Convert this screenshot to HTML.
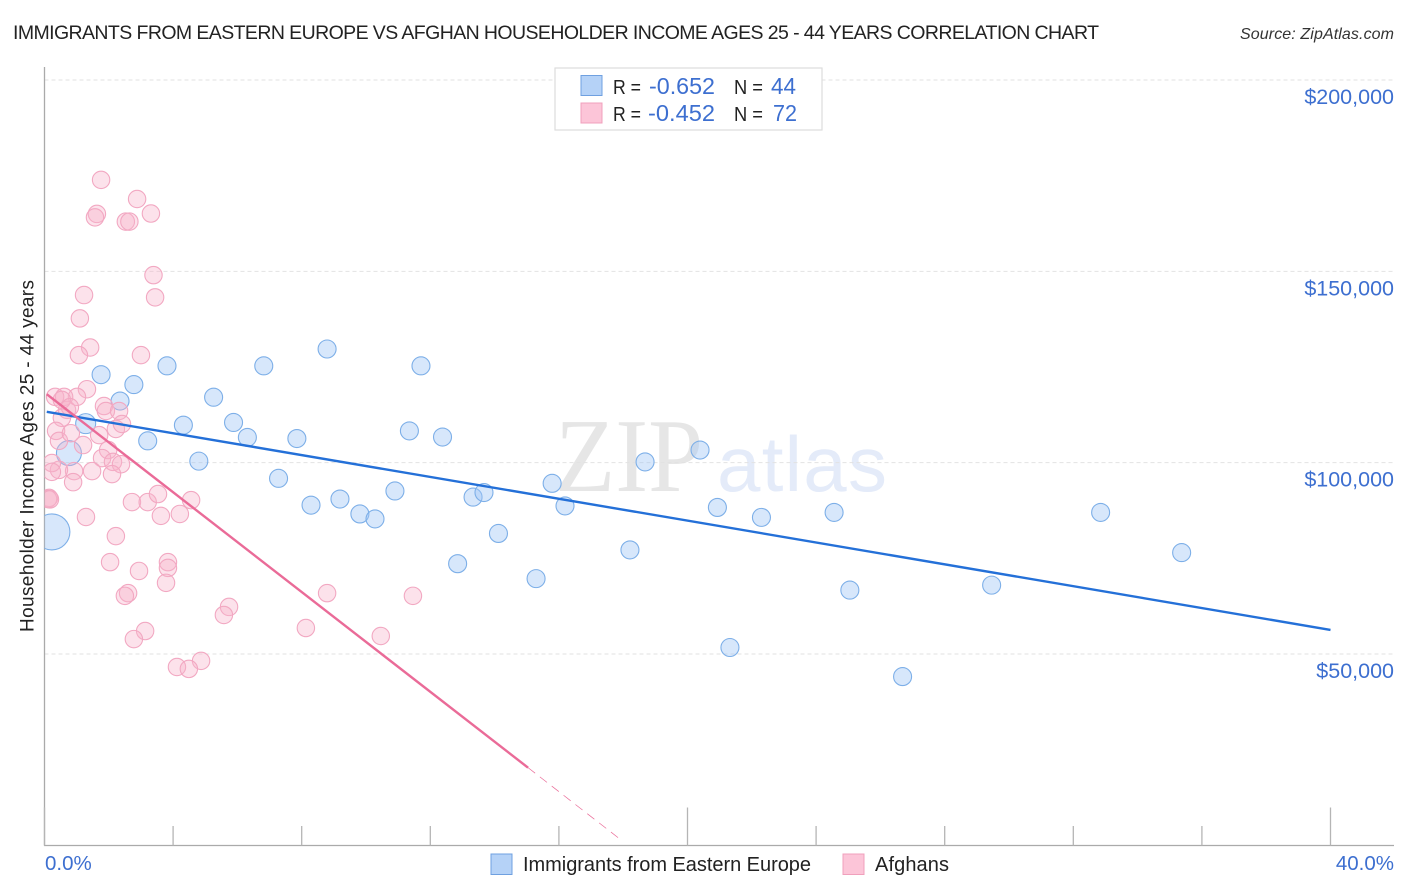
<!DOCTYPE html>
<html>
<head>
<meta charset="utf-8">
<title>Immigrants from Eastern Europe vs Afghan Householder Income Correlation Chart</title>
<style>
html,body{margin:0;padding:0;background:#fff;}
svg{display:block;font-family:"Liberation Sans",sans-serif;}
</style>
</head>
<body>
<svg id="chart" width="1406" height="892" viewBox="0 0 1406 892" xmlns="http://www.w3.org/2000/svg">
  <text x="13" y="39" font-size="19.500" fill="#222" textLength="1086" lengthAdjust="spacing">IMMIGRANTS FROM EASTERN EUROPE VS AFGHAN HOUSEHOLDER INCOME AGES 25 - 44 YEARS CORRELATION CHART</text>
  <text x="1394" y="39" font-size="16" font-style="italic" fill="#333" text-anchor="end" textLength="154" lengthAdjust="spacing">Source: ZipAtlas.com</text>

  <g id="watermark">
    <text x="555" y="491" font-family="'Liberation Serif',serif" font-size="105" fill="#e6e6e6" textLength="148" lengthAdjust="spacingAndGlyphs">ZIP</text>
    <text x="717" y="491" font-size="78" fill="#e4ebf9" textLength="170" lengthAdjust="spacing">atlas</text>
  </g>

  <g id="grid"></g>
  <g id="axes"></g>
  <g id="blue-points"></g>
  <g id="pink-points"></g>
  <g id="trends"></g>

  <text transform="translate(33.500,456) rotate(-90)" font-size="19" fill="#222" text-anchor="middle" textLength="352" lengthAdjust="spacing">Householder Income Ages 25 - 44 years</text>

  <g>
    <rect x="555" y="68" width="267" height="62" fill="#fff" stroke="#ddd" stroke-width="1.200"/>
    <rect x="581" y="75.500" width="21" height="20" fill="#b5d2f7" stroke="#6fa0e0" stroke-width="1"/>
    <rect x="581" y="103" width="21" height="20" fill="#fcc5d8" stroke="#f0a0bc" stroke-width="1"/>
    <text x="613" y="94" font-size="20" fill="#222" textLength="28" lengthAdjust="spacingAndGlyphs">R =</text>
    <text x="649" y="94" font-size="23" fill="#3d6fd0" textLength="66" lengthAdjust="spacingAndGlyphs">-0.652</text>
    <text x="734" y="94" font-size="20" fill="#222" textLength="29" lengthAdjust="spacingAndGlyphs">N =</text>
    <text x="771" y="94" font-size="23" fill="#3d6fd0" textLength="25" lengthAdjust="spacingAndGlyphs">44</text>
    <text x="613" y="121" font-size="20" fill="#222" textLength="28" lengthAdjust="spacingAndGlyphs">R =</text>
    <text x="648" y="121" font-size="23" fill="#3d6fd0" textLength="67" lengthAdjust="spacingAndGlyphs">-0.452</text>
    <text x="734" y="121" font-size="20" fill="#222" textLength="29" lengthAdjust="spacingAndGlyphs">N =</text>
    <text x="773" y="121" font-size="23" fill="#3d6fd0" textLength="24" lengthAdjust="spacingAndGlyphs">72</text>
  </g>

  <g>
    <rect x="491" y="854" width="21" height="20.500" fill="#b5d2f7" stroke="#6fa0e0" stroke-width="1"/>
    <text x="523" y="871" font-size="20" fill="#222" textLength="288" lengthAdjust="spacing">Immigrants from Eastern Europe</text>
    <rect x="843" y="854" width="21" height="20.500" fill="#fcc5d8" stroke="#f0a0bc" stroke-width="1"/>
    <text x="875" y="871" font-size="20" fill="#222" textLength="74" lengthAdjust="spacing">Afghans</text>
  </g>
</svg>

<script>
// Chart data: x in percent, y in thousands of dollars
const yTicks = [200, 150, 100, 50];
const yTickLabels = ["$200,000", "$150,000", "$100,000", "$50,000"];
const xTicks = [0, 4, 8, 12, 16, 20, 24, 28, 32, 36, 40];
const xTickLabels = ["0.0%", "40.0%"];

const blueX = [0.23,0.76,1.28,1.76,2.35,2.78,3.21,3.81,4.32,4.80,5.26,5.88,6.31,6.82,7.28,7.85,8.29,8.79,9.19,9.81,10.28,10.90,11.35,11.71,12.38,12.85,13.33,13.67,14.12,15.29,15.79,16.19,18.21,18.68,20.39,20.93,21.32,22.30,24.56,25.05,26.69,29.46,32.85,35.37];
const blueY = [81.9,102.5,110.2,123.0,116.1,120.4,105.7,125.3,109.8,100.4,117.1,110.5,106.6,125.3,95.9,106.3,88.9,129.7,90.5,86.6,85.3,92.6,108.3,125.3,106.7,73.6,91.0,92.2,81.5,69.7,94.6,88.7,77.2,100.2,103.3,88.3,51.7,85.7,87.0,66.7,44.1,68.0,87.0,76.5];
const blueWeight = [18,12.5,10,9,9,9,9,9,9,9,9,9,9,9,9,9,9,9,9,9,9,9,9,9,9,9,9,9,9,9,9,9,9,9,9,9,9,9,9,9,9,9,9,9];

const pinkX = [1.76,2.88,1.63,1.57,2.53,2.64,3.31,3.39,3.44,1.23,1.10,1.42,1.07,3.00,1.32,1.01,0.33,0.61,0.70,0.54,1.85,1.91,2.32,2.22,2.41,0.36,0.45,0.82,1.20,1.70,1.98,1.79,2.13,2.38,2.10,1.48,0.92,0.45,0.23,0.23,0.89,0.14,0.11,1.29,2.22,2.04,2.72,3.21,3.53,3.62,4.21,4.56,2.94,3.84,3.84,3.78,2.60,2.50,3.13,2.78,4.87,4.12,4.49,5.74,5.58,8.13,8.79,11.46,10.46,0.54,0.79,0.17];
const pinkY = [173.9,168.9,165.0,164.1,163.0,163.0,165.1,149.0,143.2,143.8,137.7,130.1,128.1,128.1,119.2,117.2,117.2,117.2,113.8,111.7,114.8,113.5,113.5,108.8,110.1,108.3,105.7,107.7,104.6,107.2,103.3,101.2,100.2,99.6,97.0,97.8,97.8,98.1,99.9,97.6,94.9,90.8,90.5,85.8,80.8,74.0,89.7,89.7,91.8,86.1,86.6,90.2,71.7,74.0,72.5,68.6,65.9,65.2,56.0,53.9,48.2,46.6,46.1,62.3,60.2,56.8,65.9,65.2,54.7,116.4,114.5,90.4];

const blueTrendX = [0.07, 40];
const blueTrendY = [113.3, 56.3];
const pinkTrendX = [0.07, 15.04];
const pinkTrendY = [117.9, 20.3];
const pinkDashX = [15.04, 17.95];
const pinkDashY = [20.3, 1.3];

const NS = "http://www.w3.org/2000/svg";
function xScale(v) { return 44.5 + v * 32.15; }
function yScale(v) { return 654 - (v - 50) * 3.8267; }
function make(tag, attrs, parent) {
  const el = document.createElementNS(NS, tag);
  for (const k in attrs) el.setAttribute(k, attrs[k]);
  parent.appendChild(el);
  return el;
}

const grid = document.getElementById("grid");
const axes = document.getElementById("axes");
const bluePoints = document.getElementById("blue-points");
const pinkPoints = document.getElementById("pink-points");
const trends = document.getElementById("trends");

yTicks.forEach(function (t, i) {
  const line = make("line", {x1: 44.5, x2: 1394, y1: yScale(t), y2: yScale(t), stroke: "#e2e2e2", "stroke-width": 1, "stroke-dasharray": "4 3"}, grid);
  
  
  const label = make("text", {x: 1394, y: yScale(t) + 24, "font-size": 21.5, fill: "#3d6fd0", "text-anchor": "end"}, axes);
  
  
  label.textContent = yTickLabels[i];
});

const yAxisLine = make("line", {x1: 44.5, x2: 44.5, y1: 67, y2: 845.5, stroke: "#aaa", "stroke-width": 1.3}, axes);


const xAxisLine = make("line", {x1: 44, x2: 1394, y1: 845.5, y2: 845.5, stroke: "#aaa", "stroke-width": 1.3}, axes);



xTicks.forEach(function (t) {
  const tall = t === 20 || t === 40 || t === 0;
  const tick = make("line", {x1: xScale(t), x2: xScale(t), y1: tall ? 807.5 : 826, y2: 845.5, stroke: "#b5b5b5", "stroke-width": 1.3}, axes);
  
  
});

const xLabelStart = make("text", {x: 45, y: 870, "font-size": 20.5, fill: "#3d6fd0"}, axes);


xLabelStart.textContent = xTickLabels[0];
const xLabelEnd = make("text", {x: 1394, y: 870, "font-size": 20.5, fill: "#3d6fd0", "text-anchor": "end"}, axes);


xLabelEnd.textContent = xTickLabels[1];

const clipDefs = make("defs", {}, document.getElementById("chart"));
const clip = make("clipPath", {id: "plot-clip"}, clipDefs);
make("rect", {x: 44.5, y: 60, width: 1360, height: 786}, clip);
bluePoints.setAttribute("clip-path", "url(#plot-clip)");
pinkPoints.setAttribute("clip-path", "url(#plot-clip)");

blueX.forEach(function (v, i) {
  const c = make("circle", {cx: xScale(v), cy: yScale(blueY[i]), r: blueWeight[i], fill: "rgba(160,198,245,0.42)", stroke: "#7dafe8", "stroke-width": 1.1}, bluePoints);
  
  
});
pinkX.forEach(function (v, i) {
  const c = make("circle", {cx: xScale(v), cy: yScale(pinkY[i]), r: 8.7, fill: "rgba(248,178,203,0.38)", stroke: "#f2a8c2", "stroke-width": 1.1}, pinkPoints);
  
  
});

const blueTrend = make("line", {x1: xScale(blueTrendX[0]), y1: yScale(blueTrendY[0]), x2: xScale(blueTrendX[1]), y2: yScale(blueTrendY[1]), stroke: "#2470d8", "stroke-width": 2.4}, trends);


const pinkTrend = make("line", {x1: xScale(pinkTrendX[0]), y1: yScale(pinkTrendY[0]), x2: xScale(pinkTrendX[1]), y2: yScale(pinkTrendY[1]), stroke: "#ea6b98", "stroke-width": 2.4}, trends);


const pinkDash = make("line", {x1: xScale(pinkDashX[0]), y1: yScale(pinkDashY[0]), x2: xScale(pinkDashX[1]), y2: yScale(pinkDashY[1]), stroke: "#ea6b98", "stroke-width": 0.7, "stroke-dasharray": "9 6"}, trends);


</script>
</body>
</html>
